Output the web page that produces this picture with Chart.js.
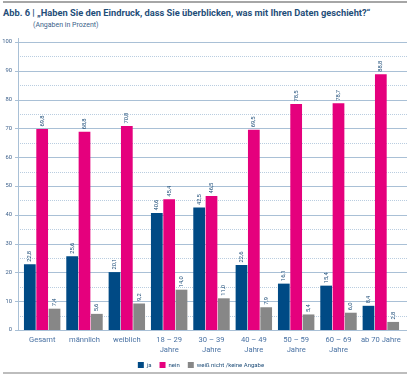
<!DOCTYPE html>
<html><head><meta charset="utf-8">
<script src="https://cdn.jsdelivr.net/npm/chart.js@4"></script>
<style>
html,body{margin:0;padding:0;background:#fff;}
#wrap{position:relative;width:414px;height:378px;overflow:hidden;font-family:Roboto,"Liberation Sans",sans-serif;}
#topline{position:absolute;left:3px;top:1px;width:404px;height:2px;background:#a6a6a6;}
#botline{position:absolute;left:3px;top:372px;width:404px;height:2px;background:#bdbdbd;}
#title{position:absolute;left:3px;top:7px;font-size:9.3px;font-weight:bold;color:#1f4e79;white-space:nowrap;}
#sub{position:absolute;left:33px;top:21px;font-size:7px;color:#3b5f8a;white-space:nowrap;}
canvas{position:absolute;left:0;top:0;}
</style></head>
<body><div id="wrap">
<div id="topline"></div>
<div id="title">Abb. 6 | „Haben Sie den Eindruck, dass Sie überblicken, was mit Ihren Daten geschieht?“</div>
<div id="sub">(Angaben in Prozent)</div>
<canvas id="c" width="414" height="378"></canvas>
<div id="botline"></div>
</div>
<script>
const categories = [["Gesamt"],["männlich"],["weiblich"],["18 – 29","Jahre"],["30 – 39","Jahre"],["40 – 49","Jahre"],["50 – 59","Jahre"],["60 – 69","Jahre"],["ab 70 Jahre"]];
const ja = [22.8, 25.6, 20.1, 40.6, 42.5, 22.6, 16.1, 15.4, 8.4];
const nein = [69.8, 68.8, 70.8, 45.4, 46.5, 69.5, 78.5, 78.7, 88.8];
const weissNicht = [7.4, 5.6, 9.2, 14.0, 11.0, 7.9, 5.4, 6.0, 2.8];
const seriesNames = ["ja", "nein", "weiß nicht /keine Angabe"];
const yTicks = [0,10,20,30,40,50,60,70,80,90,100];

const gridColor = "#a9c0d6";
const AXIS_X = 18, GRID_RIGHT = 407;

const gridPlugin = {
  id: "gridPlugin",
  beforeDatasetsDraw(chart) {
    const y = chart.scales.y, ctx = chart.ctx;
    ctx.save();
    ctx.lineWidth = 1;
    ctx.strokeStyle = "#b9cde0";
    ctx.setLineDash([1, 1]);
    for (let v = 5; v < 100; v += 10) {
      const py = Math.round(y.getPixelForValue(v)) + 0.5;
      ctx.beginPath(); ctx.moveTo(AXIS_X, py); ctx.lineTo(GRID_RIGHT, py); ctx.stroke();
    }
    ctx.setLineDash([]);
    ctx.strokeStyle = gridColor;
    yTicks.forEach(v => {
      const py = Math.round(y.getPixelForValue(v)) + 0.5;
      ctx.beginPath(); ctx.moveTo(AXIS_X - 3, py); ctx.lineTo(GRID_RIGHT, py); ctx.stroke();
    });
    ctx.beginPath();
    ctx.moveTo(AXIS_X + 0.5, y.getPixelForValue(100) - 4);
    ctx.lineTo(AXIS_X + 0.5, y.getPixelForValue(0));
    ctx.stroke();
    ctx.restore();
  }
};

const valueLabels = {
  id: "valueLabels",
  afterDatasetsDraw(chart) {
    const ctx = chart.ctx;
    ctx.save();
    ctx.font = "5.8px Roboto, 'Liberation Sans', sans-serif";
    ctx.fillStyle = "#1f4e79";
    ctx.textAlign = "left";
    ctx.textBaseline = "middle";
    chart.data.datasets.forEach((ds, di) => {
      chart.getDatasetMeta(di).data.forEach((bar, i) => {
        const txt = ds.data[i].toFixed(1).replace(".", ",");
        ctx.save();
        ctx.translate(bar.x, bar.y - 2.5);
        ctx.rotate(-Math.PI / 2);
        ctx.fillText(txt, 0, 0);
        ctx.restore();
      });
    });
    ctx.restore();
  }
};

new Chart(document.getElementById("c"), {
  type: "bar",
  data: {
    labels: categories,
    datasets: [
      { label: seriesNames[0], data: ja, backgroundColor: "#004a85" },
      { label: seriesNames[1], data: nein, backgroundColor: "#e5007d" },
      { label: seriesNames[2], data: weissNicht, backgroundColor: "#878787" }
    ]
  },
  options: {
    responsive: false,
    animation: false,
    devicePixelRatio: 1,
    datasets: { bar: { categoryPercentage: 0.875, barPercentage: 0.95, borderWidth: 0 } },
    layout: { padding: { top: 42, left: 0, right: 12, bottom: 0 } },
    plugins: {
      legend: {
        position: "bottom",
        align: "center",
        labels: {
          boxWidth: 6, boxHeight: 6, padding: 8,
          color: "#1f4e79",
          font: { size: 6, family: "Roboto, 'Liberation Sans', sans-serif" }
        }
      },
      tooltip: { enabled: false }
    },
    scales: {
      x: {
        grid: { display: false, drawTicks: false },
        border: { display: false },
        ticks: {
          color: "#4a72a3", padding: 6, maxRotation: 0, autoSkip: false,
          font: { size: 7.6, family: "Roboto, 'Liberation Sans', sans-serif", lineHeight: 1.2 }
        },
        afterFit(s) { s.height = 24; }
      },
      y: {
        min: 0, max: 100,
        afterBuildTicks(s) { s.ticks = yTicks.map(v => ({ value: v })); },
        grid: { display: false, drawTicks: false, tickLength: 0 },
        border: { display: false },
        ticks: {
          color: "#3b5f8a", padding: 9,
          font: { size: 5.8, family: "Roboto, 'Liberation Sans', sans-serif" },
          callback: v => v
        },
        afterFit(s) { s.width = 21; }
      }
    }
  },
  plugins: [gridPlugin, valueLabels]
});
</script>
</body></html>
